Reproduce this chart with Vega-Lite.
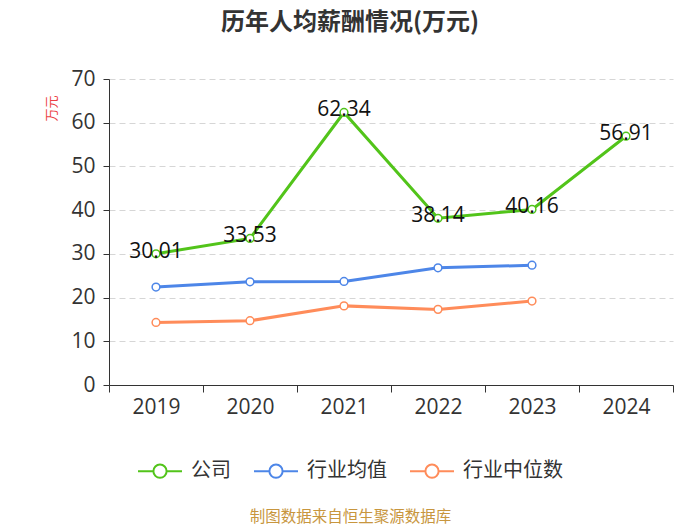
{
  "$schema": "https://vega.github.io/schema/vega-lite/v6.json",
  "autosize": {"type": "none"},
  "padding": {"left": 109, "top": 79, "right": 27, "bottom": 140},
  "width": 564,
  "height": 306,
  "title": {
    "text": "历年人均薪酬情况(万元)",
    "font": "Noto Sans CJK SC",
    "fontSize": 24,
    "fontWeight": "bold",
    "color": "#333333",
    "anchor": "middle",
    "dx": -41,
    "offset": 33
  },
  "data": {
    "values": [
      {"year": "2019", "series": "公司", "value": 30.01},
      {"year": "2020", "series": "公司", "value": 33.53},
      {"year": "2021", "series": "公司", "value": 62.34},
      {"year": "2022", "series": "公司", "value": 38.14},
      {"year": "2023", "series": "公司", "value": 40.16},
      {"year": "2024", "series": "公司", "value": 56.91},
      {"year": "2019", "series": "行业均值", "value": 22.4},
      {"year": "2020", "series": "行业均值", "value": 23.6},
      {"year": "2021", "series": "行业均值", "value": 23.7},
      {"year": "2022", "series": "行业均值", "value": 26.8},
      {"year": "2023", "series": "行业均值", "value": 27.4},
      {"year": "2019", "series": "行业中位数", "value": 14.3},
      {"year": "2020", "series": "行业中位数", "value": 14.7},
      {"year": "2021", "series": "行业中位数", "value": 18.1},
      {"year": "2022", "series": "行业中位数", "value": 17.3},
      {"year": "2023", "series": "行业中位数", "value": 19.2}
    ]
  },
  "encoding": {
    "x": {
      "field": "year",
      "type": "ordinal",
      "bandPosition": 0.5,
      "scale": {"type": "band", "paddingInner": 0, "paddingOuter": 0},
      "axis": {
        "title": "制图数据来自恒生聚源数据库",
        "titleFont": "Noto Sans CJK SC",
        "titleColor": "#c8963e",
        "titleFontSize": 15.5,
        "titleFontWeight": "normal",
        "titleX": 241,
        "titleY": 131,
        "titleAlign": "center",
        "titleBaseline": "middle",
        "labelAngle": 0,
        "labelFont": "Open Sans",
        "labelFontSize": 21,
        "labelColor": "#333333",
        "labelPadding": 4,
        "tickBand": "extent",
        "tickSize": 7,
        "tickColor": "#333333",
        "domainColor": "#333333",
        "grid": false
      }
    },
    "y": {
      "field": "value",
      "type": "quantitative",
      "scale": {"domain": [0, 70], "nice": false},
      "axis": {
        "title": "万元",
        "titleFont": "Noto Sans CJK SC",
        "titleColor": "#ec3f45",
        "titleFontSize": 13,
        "titleFontWeight": "normal",
        "titleX": -58,
        "titleY": 29,
        "titleAlign": "center",
        "titleBaseline": "middle",
        "values": [0, 10, 20, 30, 40, 50, 60, 70],
        "labelFont": "Open Sans",
        "labelFontSize": 21,
        "labelColor": "#333333",
        "labelPadding": 8,
        "tickSize": 6,
        "tickColor": "#333333",
        "domainColor": "#333333",
        "grid": true,
        "gridDash": [6, 4],
        "gridColor": "#d6d6d6"
      }
    },
    "color": {
      "field": "series",
      "type": "nominal",
      "scale": {
        "domain": ["公司", "行业均值", "行业中位数"],
        "range": ["#52c41a", "#4d86e8", "#ff8c5a"]
      },
      "legend": {
        "title": null,
        "orient": "none",
        "direction": "horizontal",
        "legendX": 28,
        "legendY": 369,
        "symbolType": "M-1,0L-0.3,0M0.3,0L1,0M-0.3,0A0.3,0.3 0 1,1 0.3,0A0.3,0.3 0 1,1 -0.3,0Z",
        "symbolSize": 1936,
        "symbolStrokeWidth": 2,
        "symbolFillColor": "white",
        "labelFont": "Noto Sans CJK SC",
        "labelFontSize": 20,
        "labelColor": "#333333",
        "labelOffset": 8,
        "columnPadding": 19
      }
    }
  },
  "layer": [
    {"mark": {"type": "line", "strokeWidth": 3}},
    {"mark": {"type": "point", "filled": false, "fill": "white", "strokeWidth": 1.5, "size": 60, "opacity": 1}},
    {
      "transform": [{"filter": "datum.series === '公司'"}],
      "mark": {"type": "text", "font": "Open Sans", "fontSize": 21, "align": "center", "baseline": "middle", "dy": -2},
      "encoding": {
        "text": {"field": "value", "type": "quantitative", "format": ".2f"},
        "color": {"value": "#111111"}
      }
    }
  ],
  "config": {
    "font": "Noto Sans CJK SC",
    "view": {"stroke": null}
  }
}
